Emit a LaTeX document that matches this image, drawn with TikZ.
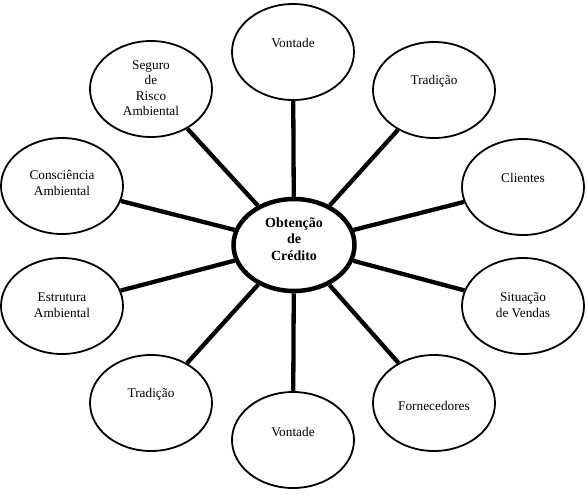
\documentclass[tikz,border=0pt]{standalone}
\usepackage{fontspec}
\setmainfont{Liberation Serif}
\usetikzlibrary{shapes.geometric}
\tikzset{
  outer/.style={ellipse, draw, line width=1.8pt, minimum width=122pt, minimum height=96pt, inner sep=0pt},
  hub/.style={ellipse, draw, line width=4.5pt, minimum width=121pt, minimum height=92pt, inner sep=0pt},
  txt/.style={align=center, font=\fontsize{13.3}{15.5}\selectfont, inner sep=0pt},
  hubtxt/.style={align=center, font=\fontsize{14}{16.5}\selectfont\bfseries, inner sep=0pt},
  link/.style={line width=4.3pt}
}
\begin{document}
\begin{tikzpicture}[x=1pt,y=1pt]
\useasboundingbox (0,0) rectangle (587,-499);
\node[hub] (c) at (294,-245) {};
\node[hubtxt] (ct) at (294,-239) {Obtenção\\de\\Crédito};
\node[outer, label={[txt, yshift=9pt]center:Vontade}] (v1) at (293,-52) {};
\node[outer, label={[txt, yshift=9pt]center:Tradição}] (t1) at (434,-90) {};
\node[outer, label={[txt, yshift=9pt]center:Clientes}] (cl) at (523,-187) {};
\node[outer, label={[txt, yshift=1pt]center:Situação\\de Vendas}] (sv) at (523,-306) {};
\node[outer, label={[txt, yshift=-3pt]center:Fornecedores}] (fo) at (434,-403) {};
\node[outer, label={[txt, yshift=8pt]center:Vontade}] (v2) at (293,-440) {};
\node[outer, label={[txt, yshift=9pt]center:Tradição}] (t2) at (151,-403) {};
\node[outer, label={[txt, yshift=1pt]center:Estrutura\\Ambiental}] (ea) at (62,-306) {};
\node[outer, label={[txt, yshift=3pt]center:Consciência\\Ambiental}] (ca) at (62,-186) {};
\node[outer, label={[txt, yshift=1pt]center:Seguro\\de\\Risco\\Ambiental}] (sr) at (151,-89) {};
\foreach \n in {v1,t1,cl,sv,fo,v2,t2,ea,ca,sr}
  \draw[link] (c) -- (\n);
\end{tikzpicture}
\end{document}
